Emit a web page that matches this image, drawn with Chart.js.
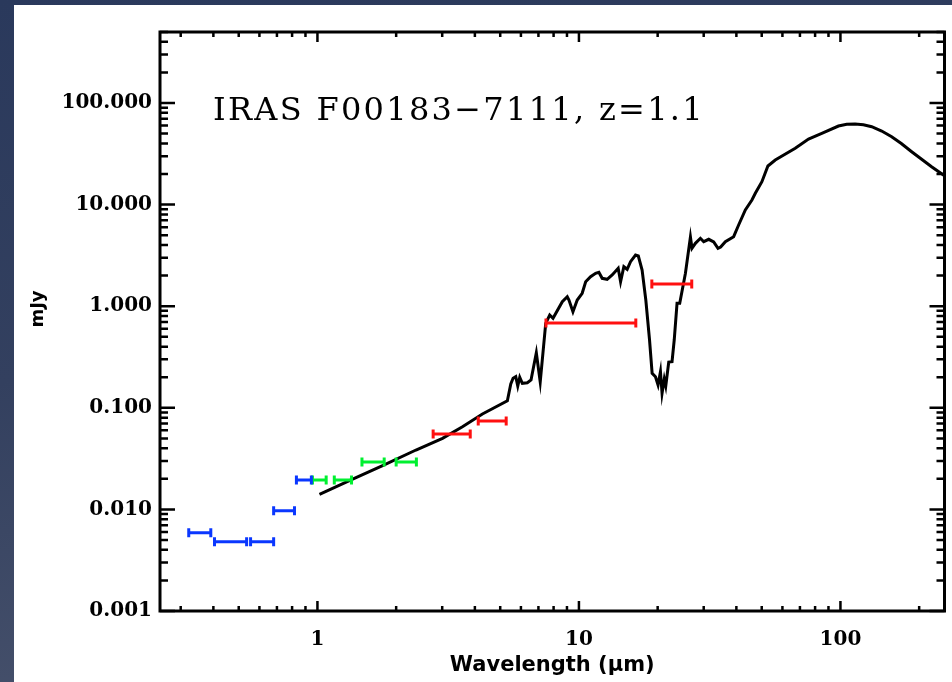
<!DOCTYPE html>
<html>
<head>
<meta charset="utf-8">
<title>IRAS F00183-7111 SED</title>
<script src="https://cdn.jsdelivr.net/npm/chart.js@4.4.1/dist/chart.umd.min.js"></script>
<style>
    html, body {
        margin: 0;
        width: 952px;
        height: 682px;
        overflow: hidden;
        background: linear-gradient(170deg, #2a395c 0%, #33405f 45%, #4c566f 100%);
    }
    #panel {
        position: absolute;
        left: 14px;
        top: 5px;
        width: 938px;
        height: 677px;
        background: #fff;
    }
    canvas { display: block; }
</style>
</head>
<body>
<div id="panel"><canvas id="sed" width="938" height="677"></canvas></div>
<script>
// modelo (curva negra), longitud de onda en micras y flujo en mJy
const modelWave = [1.018, 1.364, 1.775, 2.381, 3.008, 3.586, 4.275, 5.325, 5.487, 5.600, 5.734, 5.835,
    5.938, 6.075, 6.348, 6.558, 6.871, 7.111, 7.464, 7.731, 7.959, 8.638, 9.023, 9.158, 9.487, 9.851,
    10.29, 10.61, 11.08, 11.58, 11.92, 12.27, 12.82, 13.40, 14.13, 14.43, 14.85, 15.29, 15.75, 16.46,
    16.87, 17.44, 18.02, 18.62, 19.05, 19.62, 20.07, 20.50, 20.79, 21.20, 21.48, 22.05, 22.70, 23.14,
    23.72, 24.29, 25.54, 26.69, 27.06, 27.88, 29.14, 30.00, 31.35, 32.76, 34.02, 34.83, 36.30, 39.05,
    40.80, 43.28, 45.87, 47.26, 50.08, 52.80, 56.33, 67.17, 75.5, 84.85, 98.26, 105.7, 113.8, 122.4,
    131.7, 143.8, 157.0, 170.9, 187.2, 203.8, 223.1, 250];
const modelFlux = [0.01408, 0.01991, 0.02692, 0.03842, 0.05009, 0.06516, 0.08690, 0.1174, 0.1715, 0.1952,
    0.2023, 0.1639, 0.1996, 0.1742, 0.1766, 0.1878, 0.3485, 0.1794, 0.6790, 0.8190, 0.7603, 1.107, 1.240,
    1.151, 0.8829, 1.151, 1.340, 1.742, 1.951, 2.108, 2.157, 1.882, 1.840, 2.028, 2.361, 1.742, 2.448,
    2.308, 2.742, 3.191, 3.120, 2.272, 1.151, 0.4649, 0.2186, 0.2023, 0.1676, 0.2266, 0.1389, 0.1921,
    0.1639, 0.2823, 0.2843, 0.4649, 1.068, 1.068, 2.108, 4.798, 3.715, 4.159, 4.659, 4.313, 4.555, 4.284,
    3.715, 3.825, 4.313, 4.832, 6.299, 8.849, 11.10, 12.92, 16.81, 23.99, 27.48, 35.83, 44.22, 50.32,
    59.37, 61.71, 62.13, 61.15, 58.45, 53.02, 46.60, 39.94, 33.17, 28.11, 23.61, 19.2];

// fotometria: limites de la banda y flujo
const blueLow = [0.322, 0.404, 0.555, 0.680, 0.831];
const blueHigh = [0.391, 0.536, 0.680, 0.817, 0.948];
const blueFlux = [0.0059, 0.0048, 0.0048, 0.0097, 0.0195];

const greenLow = [0.957, 1.16, 1.48, 2.00];
const greenHigh = [1.08, 1.35, 1.80, 2.39];
const greenFlux = [0.0195, 0.0195, 0.0293, 0.0293];

const redLow = [2.77, 4.12, 7.48, 19.0];
const redHigh = [3.84, 5.27, 16.5, 27.0];
const redFlux = [0.0552, 0.0741, 0.684, 1.65];

const xTickValues = [1, 10, 100];
const yTickValues = [0.001, 0.01, 0.1, 1, 10, 100];

const plotTitle = 'IRAS F00183\u22127111, z=1.1';

// una barra horizontal = un dataset de dos puntos con remates verticales
function barSets(low, high, flux, color) {
    return low.map(function (lo, i) {
        return {
            data: [{ x: lo, y: flux[i] }, { x: high[i], y: flux[i] }],
            borderColor: color,
            borderWidth: 3,
            pointStyle: 'line',
            pointRotation: 90,
            pointRadius: 4.5,
            pointBorderWidth: 3,
            pointBorderColor: color,
            pointBackgroundColor: color,
            order: 0
        };
    });
}

// marcas de escala log (1..9 x 10^k) dentro del rango
function logMarks(min, max) {
    const out = [];
    for (let k = Math.floor(Math.log10(min)); k <= Math.ceil(Math.log10(max)); k++) {
        for (let m = 1; m <= 9; m++) {
            const v = m * Math.pow(10, k);
            if (v >= min * 0.999 && v <= max * 1.001) out.push({ v: v, major: m === 1 });
        }
    }
    return out;
}

// marco con marcas hacia dentro en los cuatro lados, titulo y etiqueta del eje y
const frameTicks = {
    id: 'frameTicks',
    afterDatasetsDraw(chart) {
        const { ctx, chartArea: a, scales: { x, y } } = chart;
        ctx.save();
        ctx.strokeStyle = '#000';
        ctx.lineWidth = 2.5;
        ctx.beginPath();
        logMarks(x.min, x.max).forEach(function (t) {
            const px = x.getPixelForValue(t.v);
            const len = t.major ? 10 : 5;
            ctx.moveTo(px, a.bottom); ctx.lineTo(px, a.bottom - len);
            ctx.moveTo(px, a.top); ctx.lineTo(px, a.top + len);
        });
        logMarks(y.min, y.max).forEach(function (t) {
            const py = y.getPixelForValue(t.v);
            const len = t.major ? 15 : 8;
            ctx.moveTo(a.left, py); ctx.lineTo(a.left + len, py);
            ctx.moveTo(a.right, py); ctx.lineTo(a.right - len, py);
        });
        ctx.stroke();
        ctx.lineWidth = 3;
        ctx.strokeRect(a.left, a.top, a.right - a.left, a.bottom - a.top);

        ctx.fillStyle = '#000';
        ctx.font = '32px "DejaVu Serif"';
        ctx.letterSpacing = '2.3px';
        ctx.textAlign = 'left';
        ctx.textBaseline = 'alphabetic';
        ctx.fillText(plotTitle, a.left + 53, a.top + 88);
        ctx.letterSpacing = '0px';

        ctx.translate(24, 304);
        ctx.rotate(-Math.PI / 2);
        ctx.font = 'bold 18px "DejaVu Sans"';
        ctx.textAlign = 'center';
        ctx.textBaseline = 'middle';
        ctx.fillText('mJy', 0, 0);
        ctx.restore();
    }
};

document.addEventListener('DOMContentLoaded', function () {
    const canvas = document.getElementById('sed');
    const ctx = canvas.getContext('2d');

    const tickFont = { family: '"DejaVu Serif"', weight: 'bold', size: 20 };

    const datasets = []
        .concat(barSets(blueLow, blueHigh, blueFlux, '#0a37ff'))
        .concat(barSets(greenLow, greenHigh, greenFlux, '#00f030'))
        .concat(barSets(redLow, redHigh, redFlux, '#ff1010'));

    datasets.push({
        data: modelWave.map(function (w, i) { return { x: w, y: modelFlux[i] }; }),
        borderColor: '#000',
        borderWidth: 3,
        pointRadius: 0,
        tension: 0,
        order: 1
    });

    new Chart(ctx, {
        type: 'line',
        data: { datasets: datasets },
        options: {
            responsive: false,
            animation: false,
            layout: { padding: { left: 0, top: 27, right: 6, bottom: 0 } },
            plugins: {
                legend: { display: false },
                tooltip: { enabled: false }
            },
            scales: {
                x: {
                    type: 'logarithmic',
                    min: 0.25,
                    max: 250,
                    grid: { display: false, drawTicks: false },
                    border: { display: false },
                    afterBuildTicks: function (scale) {
                        scale.ticks = xTickValues.map(function (v) { return { value: v }; });
                    },
                    afterFit: function (scale) { scale.height = 71; },
                    ticks: {
                        padding: 17,
                        maxRotation: 0,
                        autoSkip: false,
                        color: '#000',
                        font: tickFont,
                        callback: function (v) { return String(v); }
                    },
                    title: {
                        display: true,
                        text: 'Wavelength (\u03bcm)',
                        color: '#000',
                        font: { family: '"DejaVu Sans"', weight: 'bold', size: 21 },
                        padding: { top: 0, bottom: 4 }
                    }
                },
                y: {
                    type: 'logarithmic',
                    min: 0.001,
                    max: 500,
                    grid: { display: false, drawTicks: false },
                    border: { display: false },
                    afterBuildTicks: function (scale) {
                        scale.ticks = yTickValues.map(function (v) { return { value: v }; });
                    },
                    afterFit: function (scale) { scale.width = 146; },
                    ticks: {
                        padding: 8,
                        autoSkip: false,
                        color: '#000',
                        font: tickFont,
                        callback: function (v) { return Number(v).toFixed(3); }
                    }
                }
            }
        },
        plugins: [frameTicks]
    });
});
</script>
</body>
</html>
